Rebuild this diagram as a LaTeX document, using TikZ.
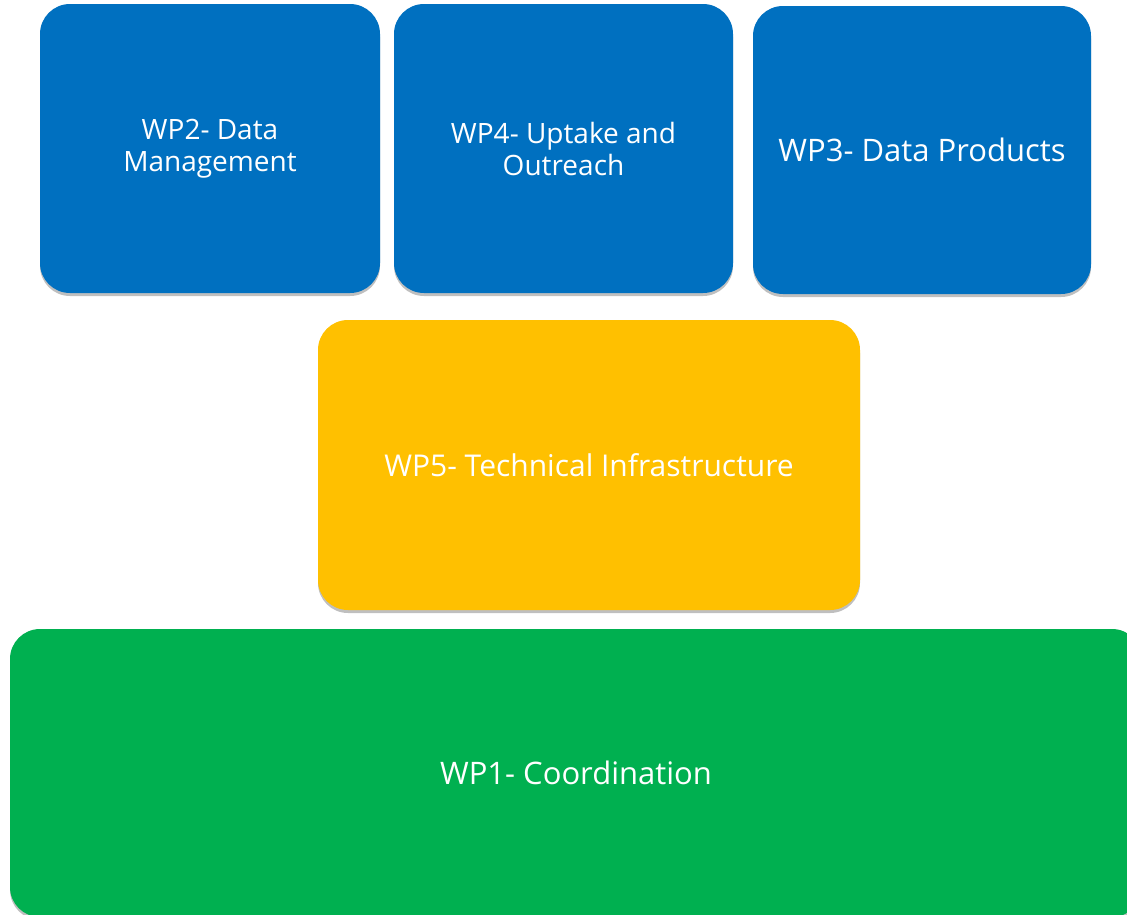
\documentclass[tikz,border=0pt]{standalone}
\usepackage{fontspec}
\setmainfont{Open Sans}
\usetikzlibrary{shadows}
\definecolor{wpblue}{HTML}{0070C0}
\definecolor{wpyellow}{HTML}{FFC000}
\definecolor{wpgreen}{HTML}{00B050}
\tikzset{
  wpbox/.style={rectangle, rounded corners=30pt, draw=none, inner sep=0pt, align=center,
    text=white, drop shadow={shadow xshift=0pt, shadow yshift=-3pt, opacity=0.25, fill=black}},
}
\begin{document}
\begin{tikzpicture}[x=1pt,y=-1pt]
\useasboundingbox (0,0) rectangle (1127,914);
\fill[white] (0,0) rectangle (1127,914);
\begin{scope}
\clip (0,0) rectangle (1127,914);
\node[wpbox, fill=wpgreen, minimum width=1132pt, minimum height=288pt,
  font=\fontsize{31}{36}\selectfont] (wp1) at (576,773) {WP1- Coordination};
\end{scope}
\node[wpbox, fill=wpblue, minimum width=340pt, minimum height=289pt,
  font=\fontsize{28}{32}\selectfont] (wp2) at (210,148.5) {WP2- Data\\Management};
\node[wpbox, fill=wpblue, minimum width=339pt, minimum height=289pt,
  font=\fontsize{28}{32}\selectfont] (wp4) at (563.5,148.5) {WP4- Uptake and\\Outreach};
\node[wpbox, fill=wpblue, minimum width=338pt, minimum height=288pt,
  font=\fontsize{31}{36}\selectfont] (wp3) at (922,150) {WP3- Data Products};
\node[wpbox, fill=wpyellow, minimum width=542pt, minimum height=290pt,
  font=\fontsize{30}{36}\selectfont] (wp5) at (589,465) {WP5- Technical Infrastructure};
\end{tikzpicture}
\end{document}
